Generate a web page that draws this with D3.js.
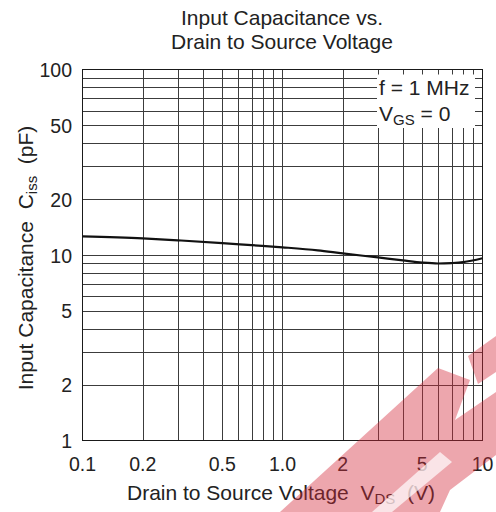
<!DOCTYPE html>
<html lang="en">
<head>
  <meta charset="UTF-8">
  <script src="https://d3js.org/d3.v7.min.js"></script>
  <style>
    body { margin: 0; background: #fff; }
    text { font-family: "Liberation Sans", Arial, sans-serif; fill: #222; white-space: pre; }
  </style>
</head>
<body>
<div id="chart"></div>
<script>
// data
var vds = [0.1, 0.2, 0.3, 0.5, 0.7, 1, 1.5, 2, 3, 4, 5, 6, 7, 8, 10];
var ciss = [12.6, 12.3, 12.0, 11.6, 11.3, 11.0, 10.6, 10.2, 9.7, 9.35, 9.1, 9.0, 9.05, 9.15, 9.6];

var xTicks = [0.1, 0.2, 0.5, 1, 2, 5, 10];
var xTickLabels = ["0.1", "0.2", "0.5", "1.0", "2", "5", "10"];
var yTicks = [1, 2, 5, 10, 20, 50, 100];

var W = 496, H = 512;
var pLeft = 82.5, pRight = 482.5, pTop = 69.5, pBottom = 440.5;

var svg = d3.select("#chart").append("svg")
  .attr("width", W).attr("height", H);

var x = d3.scaleLog().domain([0.1, 10]).range([pLeft, pRight]);
var y = d3.scaleLog().domain([1, 100]).range([pBottom, pTop]);

// grid: every 1..9 step of each decade
var gridX = [], gridY = [];
[0.1, 1].forEach(function(d) { for (var k = 1; k <= 9; k++) gridX.push(d * k); });
[1, 10].forEach(function(d) { for (var k = 1; k <= 9; k++) gridY.push(d * k); });

var grid = svg.append("g").attr("stroke", "#3c3c3c").attr("stroke-width", 1);
grid.selectAll(".gx").data(gridX.slice(1)).enter().append("line")
  .attr("x1", function(d) { return Math.round(x(d)) + 0.5; })
  .attr("x2", function(d) { return Math.round(x(d)) + 0.5; })
  .attr("y1", pTop).attr("y2", pBottom);
grid.selectAll(".gy").data(gridY.slice(1)).enter().append("line")
  .attr("y1", function(d) { return Math.round(y(d)) + 0.5; })
  .attr("y2", function(d) { return Math.round(y(d)) + 0.5; })
  .attr("x1", pLeft).attr("x2", pRight);

svg.append("rect")
  .attr("x", pLeft).attr("y", pTop)
  .attr("width", pRight - pLeft).attr("height", pBottom - pTop)
  .attr("fill", "none").attr("stroke", "#1a1a1a").attr("stroke-width", 1);

// condition box
svg.append("rect").attr("x", 377).attr("y", 74.5).attr("width", 98).attr("height", 53.5).attr("fill", "#fff");
svg.append("text").attr("x", 379).attr("y", 94.5).attr("font-size", 21).text("f = 1 MHz");
var vg = svg.append("text").attr("x", 379).attr("y", 121).attr("font-size", 21);
vg.append("tspan").text("V");
vg.append("tspan").attr("font-size", 15).attr("dy", 4).text("GS");
vg.append("tspan").attr("dy", -4).text(" = 0");

// curve
var line = d3.line()
  .x(function(d, i) { return x(vds[i]); })
  .y(function(d) { return y(d); })
  .curve(d3.curveMonotoneX);
svg.append("path").datum(ciss)
  .attr("d", line)
  .attr("fill", "none").attr("stroke", "#111").attr("stroke-width", 2.2);

// tick labels
svg.selectAll(".xl").data(xTicks).enter().append("text")
  .attr("x", function(d) { return x(d); })
  .attr("y", 470.5)
  .attr("text-anchor", "middle").attr("font-size", 19.5)
  .text(function(d, i) { return xTickLabels[i]; });
svg.selectAll(".yl").data(yTicks).enter().append("text")
  .attr("x", 72)
  .attr("y", function(d) { return y(d) + 7.5; })
  .attr("text-anchor", "end").attr("font-size", 19.5)
  .text(function(d) { return d; });

// titles
svg.append("text").attr("x", 282).attr("y", 25).attr("text-anchor", "middle").attr("font-size", 21).text("Input Capacitance vs.");
svg.append("text").attr("x", 282).attr("y", 48.5).attr("text-anchor", "middle").attr("font-size", 21).text("Drain to Source Voltage");

var xt = svg.append("text").attr("x", 281).attr("y", 500).attr("text-anchor", "middle").attr("font-size", 21);
xt.append("tspan").text("Drain to Source Voltage  V");
xt.append("tspan").attr("font-size", 15).attr("dy", 4).text("DS");
xt.append("tspan").attr("dy", -4).text("  (V)");

var yt = svg.append("text").attr("transform", "translate(33,258) rotate(-90)").attr("text-anchor", "middle").attr("font-size", 21);
yt.append("tspan").text("Input Capacitance  C");
yt.append("tspan").attr("font-size", 15).attr("dy", 4).text("iss");
yt.append("tspan").attr("dy", -4).text("  (pF)");

// red watermark overlay (rough)
var wm = svg.append("g").attr("fill", "#d42a3c").attr("fill-opacity", 0.42);
wm.append("path").attr("d", "M280,512 L438,368 L470,380 L455,420 L496,392 L496,455 L450,490 L440,512 Z");
wm.append("path").attr("d", "M468,356 L496,336 L496,372 L478,384 Z");
svg.append("path").attr("fill", "#fff").attr("fill-opacity", 0.7)
  .attr("d", "M372,512 L440,452 L452,462 L392,512 Z");
</script>
</body>
</html>
